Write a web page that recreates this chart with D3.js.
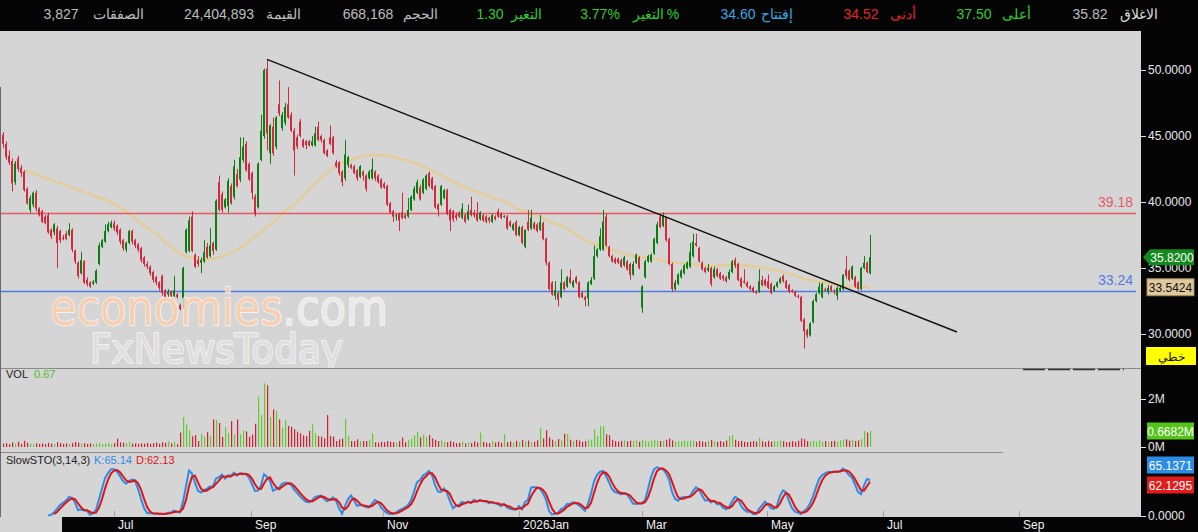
<!DOCTYPE html>
<html>
<head>
<meta charset="utf-8">
<script src="https://d3js.org/d3.v7.min.js"></script>
<style>
  body { margin: 0; background: #050505; }
  svg { display: block; font-family: "Liberation Sans", Arial, sans-serif; }
</style>
</head>
<body>
<svg id="chart" width="1198" height="532"></svg>
<script>
// ---- data ----
const opens = [
45.1,44.4,43.5,43.1,41.5,43.3,42.6,42.3,41.0,39.4,
39.8,40.7,39.5,39.3,38.9,39.0,37.9,37.7,38.0,37.8,
37.3,37.6,37.5,37.9,36.3,35.4,34.6,35.5,34.1,33.9,
33.8,33.9,35.3,36.6,37.0,37.8,38.1,38.4,38.2,37.9,
37.1,36.4,36.9,37.8,37.1,36.8,36.5,35.8,35.3,35.1,
34.7,34.3,33.9,34.4,33.3,33.0,33.2,32.9,33.0,32.2,
32.7,36.2,36.3,38.9,36.0,35.6,35.4,35.5,36.6,35.9,
36.9,36.4,41.5,40.6,39.6,39.7,41.2,40.4,42.1,41.7,
43.2,44.4,42.9,42.2,40.4,39.6,43.2,45.0,50.1,43.7,
45.7,44.2,47.4,45.6,46.0,47.4,46.6,45.4,44.9,46.1,
44.7,44.6,44.6,44.3,44.3,45.7,45.0,44.7,43.9,44.9,
44.9,43.0,43.0,42.3,41.8,42.8,42.8,42.7,42.4,41.9,
42.3,42.0,41.8,41.8,42.3,42.0,41.7,41.4,41.2,39.9,
39.3,38.9,39.1,39.2,39.0,38.9,39.4,40.2,40.7,41.1,
40.7,41.0,42.2,41.8,41.2,39.8,39.8,40.3,40.9,39.4,
39.3,39.0,39.2,38.8,39.0,38.7,39.4,39.2,39.1,38.7,
39.0,38.9,38.8,38.5,38.9,39.3,39.1,38.9,38.9,38.5,
37.9,38.5,37.5,38.1,36.6,38.5,38.0,38.4,38.3,37.9,
38.4,37.2,35.4,33.9,32.9,33.1,32.8,33.9,33.6,34.3,
33.6,34.3,33.9,33.1,32.8,32.7,33.8,34.2,35.9,36.4,
36.4,38.9,36.6,35.9,35.7,35.7,35.6,35.2,35.5,35.3,
34.5,35.4,35.8,32.0,34.3,35.5,35.5,36.1,36.9,38.9,
38.2,38.8,37.2,35.3,33.4,33.8,34.3,34.6,35.0,35.1,
35.9,36.9,36.5,35.4,35.0,34.8,35.0,34.3,34.9,34.6,
34.4,34.3,34.2,34.7,35.6,35.3,34.2,34.0,33.9,33.6,
33.5,33.2,33.2,34.1,34.1,34.0,33.8,33.3,33.6,33.9,
34.4,34.0,33.7,33.3,33.2,32.9,32.8,31.1,30.3,29.9,
30.9,32.5,33.1,32.8,33.4,33.2,33.6,33.3,32.9,33.3,
33.4,34.9,34.8,34.2,34.3,33.9,33.4,35.0,35.4,34.6];
const highs = [
45.3,44.6,43.9,43.3,43.1,43.5,42.8,42.4,41.1,40.5,
40.8,40.9,39.6,39.4,39.0,39.2,38.0,38.4,38.2,37.9,
37.5,37.8,38.4,38.0,36.4,35.5,36.2,35.6,34.3,34.0,
34.1,34.9,36.9,37.2,38.3,38.5,38.6,38.6,38.3,38.0,
37.2,37.0,37.9,37.9,37.2,36.9,36.6,35.9,35.5,35.2,
34.8,34.4,34.0,34.5,33.4,33.4,33.3,34.4,33.1,32.3,
35.1,38.0,38.9,39.3,36.1,35.9,35.8,37.1,36.9,38.0,
37.0,40.2,42.0,40.8,40.3,41.8,41.4,43.2,42.5,44.9,
44.9,44.6,43.0,42.3,40.6,43.0,46.6,50.1,50.8,45.9,
46.4,46.5,49.2,46.8,47.5,48.7,46.8,45.6,45.1,46.3,
44.8,44.7,44.7,45.0,45.7,46.1,45.1,44.8,44.0,45.8,
45.0,43.2,43.1,42.4,44.7,43.5,42.9,42.8,42.5,42.8,
42.4,42.1,42.4,43.3,42.4,42.1,41.8,41.5,41.3,40.0,
39.4,39.1,39.2,40.7,39.1,40.3,40.5,41.2,41.7,41.3,
41.8,42.1,42.3,41.9,41.3,39.9,41.3,41.0,41.0,39.5,
39.4,39.2,39.3,39.9,39.1,39.8,40.4,39.4,40.0,39.3,
39.1,39.0,38.9,39.1,39.0,39.5,39.2,39.0,39.0,38.6,
38.4,38.6,38.2,38.2,37.9,39.4,39.4,38.5,38.4,39.0,
38.5,37.3,35.5,34.0,34.0,33.2,34.9,34.0,34.4,34.9,
34.1,34.4,34.0,33.2,32.9,34.0,34.3,36.7,36.5,38.0,
39.4,39.1,36.7,36.0,35.8,35.8,35.7,35.9,35.6,35.4,
35.5,36.1,35.9,33.7,35.6,36.0,36.1,37.3,38.5,39.1,
39.2,38.9,37.3,35.4,34.1,34.6,34.9,35.3,35.5,36.9,
37.6,37.6,36.6,35.5,35.1,35.3,35.1,35.1,35.0,34.7,
34.5,34.4,34.9,35.6,35.8,35.4,34.3,34.9,34.0,33.7,
33.6,33.3,34.9,34.4,34.2,34.5,33.9,33.7,34.0,34.3,
34.5,34.1,33.8,33.4,33.3,33.0,32.9,31.2,30.4,30.9,
32.6,33.1,33.9,33.9,33.5,33.7,33.7,33.4,33.6,33.6,
34.5,35.9,34.9,35.2,34.4,34.0,35.1,35.9,35.5,37.5];
const lows = [
44.1,43.2,42.8,40.8,41.3,42.3,41.9,40.8,39.8,39.2,
39.6,39.3,38.9,38.4,38.3,37.6,37.2,37.5,35.0,36.9,
37.1,37.1,37.4,36.2,35.3,34.2,34.5,33.8,33.6,33.5,
33.7,33.8,35.2,36.5,36.9,37.7,38.0,37.8,37.5,36.8,
36.3,36.2,36.8,36.8,36.5,36.2,35.4,35.1,34.9,34.4,
33.9,33.7,33.3,32.9,32.6,32.8,32.8,32.8,32.7,31.8,
31.9,36.1,36.2,36.2,35.0,35.1,34.6,35.4,35.7,35.8,
36.0,36.3,39.3,39.2,39.5,39.2,39.8,40.2,41.1,41.5,
43.0,42.3,41.6,40.2,38.9,39.5,43.1,44.8,43.9,42.9,
43.5,44.0,46.5,45.4,45.8,46.3,45.3,42.0,44.0,44.9,
44.1,44.0,44.2,44.2,44.2,44.6,44.5,43.6,43.4,44.3,
43.6,42.6,42.0,41.2,41.6,42.6,42.5,42.1,41.6,41.8,
41.6,40.8,41.7,41.7,41.6,41.4,41.0,41.0,39.7,39.1,
38.5,38.6,37.8,38.7,38.7,38.8,39.3,40.1,40.6,40.1,
40.6,40.9,41.1,40.9,39.5,38.9,39.7,40.2,39.0,37.8,
38.5,38.6,38.8,38.7,38.4,38.6,38.9,38.8,38.5,38.6,
38.5,38.4,38.4,38.4,38.6,38.8,38.7,38.8,37.9,38.1,
37.8,37.4,37.4,36.8,36.5,37.8,37.9,37.9,37.7,37.8,
37.1,35.2,33.3,32.9,32.6,32.1,32.7,33.3,33.5,33.8,
33.5,33.8,32.7,32.7,32.1,32.1,33.7,34.1,35.8,36.3,
36.3,36.6,35.8,35.4,35.3,35.3,35.0,35.1,34.8,34.1,
34.4,35.3,34.9,31.6,34.2,35.4,35.4,36.0,36.8,38.0,
38.1,37.0,35.2,33.2,33.3,33.7,34.2,34.5,34.9,35.0,
35.8,36.6,35.4,34.8,34.6,34.7,33.6,34.2,34.3,34.1,
34.0,33.9,34.1,34.6,35.0,34.0,33.5,33.8,33.5,33.3,
33.1,33.0,33.1,33.6,33.6,33.4,33.0,33.2,33.5,33.8,
33.9,33.4,33.1,33.1,32.8,32.7,30.9,28.9,29.7,29.8,
30.8,32.4,33.0,32.7,33.2,33.0,33.2,33.0,32.6,33.2,
33.3,34.2,34.0,34.1,33.5,33.3,33.3,34.9,34.6,34.52];
const closes = [
44.4,43.4,43.0,41.4,42.9,42.5,42.2,40.9,39.9,40.3,
40.7,39.5,39.0,38.5,38.4,37.7,37.4,38.3,36.9,37.1,
37.2,37.2,37.9,36.4,35.5,34.4,35.6,33.9,33.8,33.6,
33.95,34.8,36.7,37.1,37.8,38.3,38.4,38.0,37.7,37.0,
36.5,36.9,37.8,37.0,36.7,36.4,35.6,35.3,35.1,34.6,
34.1,33.9,33.5,33.1,32.8,33.2,32.9,33.3,32.8,31.9,
35.0,37.9,38.6,36.3,35.1,35.3,35.6,36.2,35.8,36.7,
36.3,40.1,39.4,39.4,40.2,41.6,39.9,42.7,41.2,43.4,
44.2,42.4,41.7,40.7,39.1,42.9,45.4,50.0,45.2,45.8,
43.7,46.4,46.7,46.6,47.2,46.4,45.4,43.9,44.2,45.0,
44.2,44.3,44.3,44.6,45.2,44.7,44.7,43.7,43.5,44.4,
43.7,42.7,42.2,41.5,43.6,43.4,42.6,42.2,41.8,42.7,
42.0,41.0,42.3,42.5,41.8,41.5,41.1,41.1,39.8,39.2,
38.9,39.0,38.6,38.8,38.8,39.4,40.4,41.0,41.5,40.2,
41.7,42.0,41.2,41.0,39.6,39.4,41.2,40.9,39.1,38.6,
38.7,38.8,38.9,39.5,38.5,39.3,39.0,39.0,38.6,39.2,
38.6,38.5,38.6,39.0,38.7,38.9,38.8,38.95,38.0,38.2,
38.3,37.5,38.1,36.9,37.9,37.9,38.8,38.0,37.8,38.5,
37.2,35.4,33.4,33.0,33.3,32.6,33.9,33.4,34.3,33.9,
34.0,33.9,32.8,32.8,32.6,33.9,34.1,35.9,36.4,37.4,
38.5,36.7,35.9,35.5,35.4,35.4,35.1,35.8,34.9,34.5,
35.3,36.0,35.0,33.6,35.5,35.9,36.0,37.2,38.3,38.1,
39.0,37.1,35.3,33.4,33.9,34.5,34.8,35.2,35.4,36.2,
37.0,36.7,35.5,34.9,34.7,35.0,33.8,34.9,34.4,34.2,
34.2,34.0,34.7,35.5,35.2,34.1,33.6,33.9,33.6,33.4,
33.2,33.1,34.0,33.7,33.7,33.5,33.1,33.6,33.9,34.2,
34.0,33.5,33.2,33.2,32.9,32.8,31.0,30.2,29.9,30.8,
32.5,33.0,33.6,33.8,33.3,33.5,33.3,33.2,33.5,33.5,
34.5,34.4,34.1,35.1,33.6,33.4,35.0,35.4,34.7,35.82];
// volume, millions
const volumes = [
0.14,0.16,0.12,0.2,0.15,0.22,0.13,0.26,0.18,0.14,
0.12,0.16,0.13,0.15,0.12,0.17,0.14,0.12,0.2,0.16,
0.13,0.15,0.12,0.17,0.21,0.18,0.14,0.16,0.13,0.15,
0.12,0.14,0.16,0.13,0.15,0.17,0.12,0.16,0.35,0.2,
0.18,0.15,0.22,0.14,0.16,0.13,0.15,0.14,0.17,0.13,
0.16,0.19,0.14,0.2,0.17,0.24,0.16,0.22,0.12,0.6,
1.25,0.94,0.7,0.45,0.5,0.25,0.55,0.43,0.62,0.45,
1.15,1.12,1.0,0.42,0.83,0.57,1.08,0.52,1.15,0.52,
0.7,0.65,0.43,0.52,0.97,2.1,1.33,2.65,2.57,1.25,
1.57,1.5,1.15,0.8,1.12,0.88,0.85,0.74,0.64,0.57,
0.49,0.46,0.67,0.94,0.57,0.46,0.43,0.36,1.33,0.46,
0.43,0.25,0.32,0.35,1.18,0.46,0.25,0.25,0.32,0.25,
0.25,0.25,0.3,0.56,0.2,0.18,0.22,0.2,0.25,0.22,
0.2,0.18,0.25,0.39,0.2,0.3,0.35,0.49,0.64,0.4,
0.53,0.42,0.5,0.36,0.3,0.25,0.28,0.22,0.2,0.25,
0.2,0.16,0.18,0.22,0.15,0.2,0.17,0.24,0.19,0.6,
0.21,0.18,0.16,0.25,0.19,0.22,0.17,0.53,0.2,0.23,
0.18,0.26,0.21,0.3,0.24,0.27,0.2,0.22,0.28,0.8,
0.35,0.7,0.4,0.3,0.26,0.33,0.28,0.55,0.55,0.3,
0.25,0.3,0.27,0.22,0.25,0.32,0.3,0.74,0.45,0.87,
0.87,0.53,0.49,0.3,0.25,0.22,0.26,0.28,0.24,0.27,
0.25,0.28,0.22,0.3,0.26,0.24,0.27,0.3,0.28,0.25,
0.26,0.3,0.36,0.28,0.22,0.25,0.23,0.27,0.24,0.28,
0.26,0.22,0.25,0.23,0.2,0.26,0.3,0.24,0.22,0.25,
0.21,0.27,0.46,0.5,0.3,0.24,0.26,0.22,0.2,0.23,
0.25,0.22,0.39,0.24,0.2,0.26,0.22,0.25,0.23,0.27,
0.24,0.2,0.22,0.25,0.21,0.26,0.36,0.33,0.25,0.22,
0.26,0.23,0.28,0.22,0.25,0.2,0.24,0.26,0.22,0.28,
0.3,0.32,0.27,0.3,0.25,0.28,0.33,0.67,0.6,0.668];
// moving average, sampled every 4th bar from bar 7, plus the last bar
const maIndex = d3.range(7, 288, 4).concat([289]);
const maValues = [
42.4,42.1,41.75,41.45,41.1,40.75,40.4,40.1,39.6,38.95,
38.2,37.6,36.8,36.1,35.75,35.6,35.75,36.05,36.5,37.2,
37.9,38.7,39.45,40.2,41.2,42.0,42.7,43.15,43.4,43.55,
43.55,43.35,43.1,42.8,42.35,41.9,41.45,41.0,40.7,40.35,
40.05,39.55,39.2,38.85,38.45,38.1,37.55,37.0,36.7,36.35,
36.1,35.9,35.75,35.6,35.45,35.35,35.25,35.15,35.2,35.25,
35.2,35.1,34.95,34.75,34.5,34.2,34.0,33.85,33.7,33.6,
33.55,33.54];
// trend line anchors (bar index, price)
const trendIdx = [88, 318];
const trendPrice = [50.8, 30.15];
const levelValues = [39.18, 33.24];
const priceTicks = [30, 35, 40, 45, 50];
const volTicks = [0, 2];
const monthLabels = ["Jul", "Sep", "Nov", "2026Jan", "Mar", "May", "Jul", "Sep"];
const monthIdx = [37, 82.7, 126.7, 172, 213, 254.7, 293.3, 338.8];
const headerTexts = ["3,827","الصفقات","24,404,893","القيمة","668,168","الحجم","1.30","التغير",
  "3.77%","%","التغير","34.60","إفتتاح","34.52","أدنى","37.50","أعلى","35.82","الاغلاق"];

// ---- layout ----
const W = 1198, H = 532, plotR = 1141;
const headerX = [61,118,219,283,368,420,490,526,600,673,648,738,777,861,903,974,1016,1090,1139];
const headerCol = ["#bdbdbd","#bdbdbd","#bdbdbd","#bdbdbd","#bdbdbd","#bdbdbd","#2ecc2e","#2ecc2e",
  "#2ecc2e","#2ecc2e","#2ecc2e","#35a9e3","#35a9e3","#e32424","#e32424","#2ecc2e","#2ecc2e","#bdbdbd","#dcdcdc"];
const UP = "#0b7d12", DOWN = "#d22a3c";

const svg = d3.select("#chart");
svg.append("rect").attr("width", W).attr("height", H).attr("fill", "#050505");
svg.append("rect").attr("x", 0).attr("y", 31).attr("width", plotR).attr("height", 486).attr("fill", "#d5d5d5");
svg.append("rect").attr("x", 0).attr("y", 517).attr("width", 62).attr("height", 15).attr("fill", "#d5d5d5");

// header
svg.append("g").selectAll("text").data(headerTexts).join("text")
  .attr("x", (d, i) => headerX[i]).attr("y", 19)
  .attr("text-anchor", "middle").attr("font-size", 14)
  .attr("fill", (d, i) => headerCol[i]).text(d => d);

// scales
const x = d3.scaleLinear().domain([0, closes.length - 1]).range([3, 870]);
const y = d3.scaleLinear().domain([30, 50]).range([334, 70]);
const yVol = d3.scaleLinear().domain([0, 2]).range([447, 399]);
const yStoch = d3.scaleLinear().domain([0, 100]).range([516, 466]);

svg.append("clipPath").attr("id", "pclip").append("rect")
  .attr("x", 0).attr("y", 31).attr("width", plotR).attr("height", 337);
const price = svg.append("g").attr("clip-path", "url(#pclip)");

// moving average
price.append("path")
  .datum(maIndex.map((d, i) => [d, maValues[i]]))
  .attr("fill", "none").attr("stroke", "#e3cd9b").attr("stroke-width", 2.6)
  .attr("d", d3.line().x(d => x(d[0])).y(d => y(d[1])).curve(d3.curveMonotoneX));

// support / resistance
const levelCol = ["#e65a64", "#4f7be6"];
price.selectAll(".lvl").data(levelValues).join("line")
  .attr("x1", 0).attr("x2", 1136)
  .attr("y1", d => Math.round(y(d)) + 0.5).attr("y2", d => Math.round(y(d)) + 0.5)
  .attr("stroke", (d, i) => levelCol[i]).attr("stroke-width", 1.3);
price.selectAll(".lvlt").data(levelValues).join("text")
  .attr("x", 1133).attr("y", d => y(d) - 6).attr("text-anchor", "end")
  .attr("font-size", 14).attr("fill", (d, i) => levelCol[i]).text(d => d.toFixed(2));

// candles
const candles = price.append("g").selectAll("g").data(closes).join("g")
  .attr("fill", (c, i) => c >= opens[i] ? UP : DOWN);
candles.append("rect")
  .attr("x", (c, i) => x(i)).attr("width", 1)
  .attr("y", (c, i) => y(highs[i])).attr("height", (c, i) => y(lows[i]) - y(highs[i]));
candles.append("rect")
  .attr("x", (c, i) => x(i) - 1).attr("width", 2)
  .attr("y", (c, i) => y(Math.max(c, opens[i])))
  .attr("height", (c, i) => Math.max(1, Math.abs(y(c) - y(opens[i]))));

// trend line
price.append("line")
  .attr("x1", x(trendIdx[0])).attr("y1", y(trendPrice[0]))
  .attr("x2", x(trendIdx[1])).attr("y2", y(trendPrice[1]))
  .attr("stroke", "#111").attr("stroke-width", 1.4);

// watermark
const wm = price.append("g").attr("opacity", 0.92).attr("font-family", "'DejaVu Sans', sans-serif");
const wm1 = wm.append("text").attr("x", 50).attr("y", 325).attr("font-size", 50)
  .attr("textLength", 338).attr("lengthAdjust", "spacingAndGlyphs")
  .attr("fill", "#f9ceae").attr("stroke", "#fbfbfb").attr("stroke-width", 1.6)
  .attr("paint-order", "stroke");
wm1.append("tspan").text("economies");
wm1.append("tspan").attr("fill", "#ececec").text(".com");
wm.append("text").attr("x", 90).attr("y", 363).attr("font-size", 40)
  .attr("textLength", 253).attr("lengthAdjust", "spacingAndGlyphs")
  .attr("fill", "#e0e0e0").attr("stroke", "#fbfbfb").attr("stroke-width", 1.6)
  .attr("paint-order", "stroke").text("FxNewsToday");

// panel separators
svg.append("line").attr("x1", 0).attr("x2", plotR).attr("y1", 368.5).attr("y2", 368.5)
  .attr("stroke", "#8a8a8a");
svg.append("line").attr("x1", 0).attr("x2", 1003).attr("y1", 452.5).attr("y2", 452.5)
  .attr("stroke", "#8a8a8a");
svg.append("line").attr("x1", 1023).attr("x2", 1124).attr("y1", 369.5).attr("y2", 369.5)
  .attr("stroke", "#333").attr("stroke-width", 1.5).attr("stroke-dasharray", "22,3");
svg.append("line").attr("x1", 0.5).attr("x2", 0.5).attr("y1", 87).attr("y2", 517)
  .attr("stroke", "#6a6a6a");

// volume
svg.append("g").selectAll("rect").data(volumes).join("rect")
  .attr("x", (d, i) => x(i)).attr("width", 1.2)
  .attr("y", d => yVol(d)).attr("height", d => yVol(0) - yVol(d))
  .attr("fill", (d, i) => closes[i] >= opens[i] ? "#62cc2e" : "#d21f30");
svg.append("text").attr("x", 6).attr("y", 378).attr("font-size", 11).attr("fill", "#222").text("VOL");
svg.append("text").attr("x", 34).attr("y", 378).attr("font-size", 11).attr("fill", "#4cbf2a").text("0.67");

// slow stochastic (3,14,3) from the OHLC arrays
const period = 14;
const rawK = closes.map((c, i) => {
  if (i < period - 1) return null;
  const lo = d3.min(lows.slice(i - period + 1, i + 1));
  const hi = d3.max(highs.slice(i - period + 1, i + 1));
  return hi === lo ? 50 : (c - lo) / (hi - lo) * 100;
});
const sma3 = arr => arr.map((v, i) => {
  if (i < 2) return null;
  const w = arr.slice(i - 2, i + 1);
  return w.some(d => d == null) ? null : d3.mean(w);
});
const slowK = sma3(rawK);
const slowD = sma3(slowK);
const stLine = d3.line().defined(d => d != null).x((d, i) => x(i)).y(d => yStoch(d));
svg.append("path").datum(slowK).attr("fill", "none").attr("stroke", "#2b8ce8")
  .attr("stroke-width", 2).attr("d", stLine);
svg.append("path").datum(slowD).attr("fill", "none").attr("stroke", "#e01414")
  .attr("stroke-width", 2).attr("d", stLine);
svg.append("text").attr("x", 6).attr("y", 464).attr("font-size", 11).attr("fill", "#222").text("SlowSTO(3,14,3)");
svg.append("text").attr("x", 94).attr("y", 464).attr("font-size", 11).attr("fill", "#2b8ce8").text("K:65.14");
svg.append("text").attr("x", 136).attr("y", 464).attr("font-size", 11).attr("fill", "#e01414").text("D:62.13");

// time axis
svg.append("rect").attr("x", 62).attr("y", 517).attr("width", W - 62).attr("height", 15).attr("fill", "#050505");
const months = svg.append("g").selectAll("g").data(monthLabels).join("g")
  .attr("transform", (d, i) => `translate(${Math.round(x(monthIdx[i]))},0)`);
months.append("line").attr("x1", 0.5).attr("x2", 0.5).attr("y1", 511).attr("y2", 517)
  .attr("stroke", "#a0a0a0");
months.append("text").attr("x", 4).attr("y", 529).attr("font-size", 12)
  .attr("fill", "#f0f0f0").text(d => d);

// right axis
function styleAxis(g) {
  g.select(".domain").remove();
  g.selectAll("line").attr("stroke", "#e0e0e0");
  g.selectAll("text").attr("fill", "#e8e8e8").attr("font-size", 12)
    .attr("font-family", "'Liberation Sans', Arial, sans-serif").attr("x", 7);
}
svg.append("g").attr("transform", `translate(${plotR},0)`)
  .call(d3.axisRight(y).tickValues(priceTicks).tickFormat(d3.format(".4f")).tickSize(5))
  .call(styleAxis);
svg.append("g").attr("transform", `translate(${plotR},0)`)
  .call(d3.axisRight(yVol).tickValues(volTicks).tickFormat(d => d + "M").tickSize(5))
  .call(styleAxis);
svg.append("g").attr("transform", `translate(${plotR},0)`)
  .call(d3.axisRight(yStoch).tickValues([0]).tickFormat(d3.format(".4f")).tickSize(5))
  .call(styleAxis);

// value tags on the right axis
const lastClose = closes[closes.length - 1];
const yc = y(lastClose);
svg.append("path")
  .attr("d", `M1143,${yc} L1150,${yc - 8} L1194,${yc - 8} L1194,${yc + 8} L1150,${yc + 8} Z`)
  .attr("fill", "#138a1c");
svg.append("text").attr("x", 1172).attr("y", yc + 4.5).attr("text-anchor", "middle")
  .attr("font-size", 12).attr("fill", "#fff").text(lastClose.toFixed(4));

function tag(yMid, fill, txt, col, stroke) {
  svg.append("rect").attr("x", 1147).attr("y", yMid - 8.5).attr("width", 47).attr("height", 17)
    .attr("fill", fill).attr("stroke", stroke || "none");
  svg.append("text").attr("x", 1170.5).attr("y", yMid + 4.5).attr("text-anchor", "middle")
    .attr("font-size", 12).attr("fill", col).text(txt);
}
tag(y(33.5424), "#dfc99b", "33.5424", "#111", "#9b8a60");
tag(431, "#52c41a", "0.6682M", "#fff");
tag(465, "#2b8ce8", "65.1371", "#fff");
tag(485, "#e21b1b", "62.1295", "#fff");
svg.append("rect").attr("x", 1146).attr("y", 347).attr("width", 50).attr("height", 18).attr("fill", "#ffff00");
svg.append("text").attr("x", 1171).attr("y", 361).attr("text-anchor", "middle")
  .attr("font-size", 12).attr("fill", "#111").text("خطي");
</script>
</body>
</html>
